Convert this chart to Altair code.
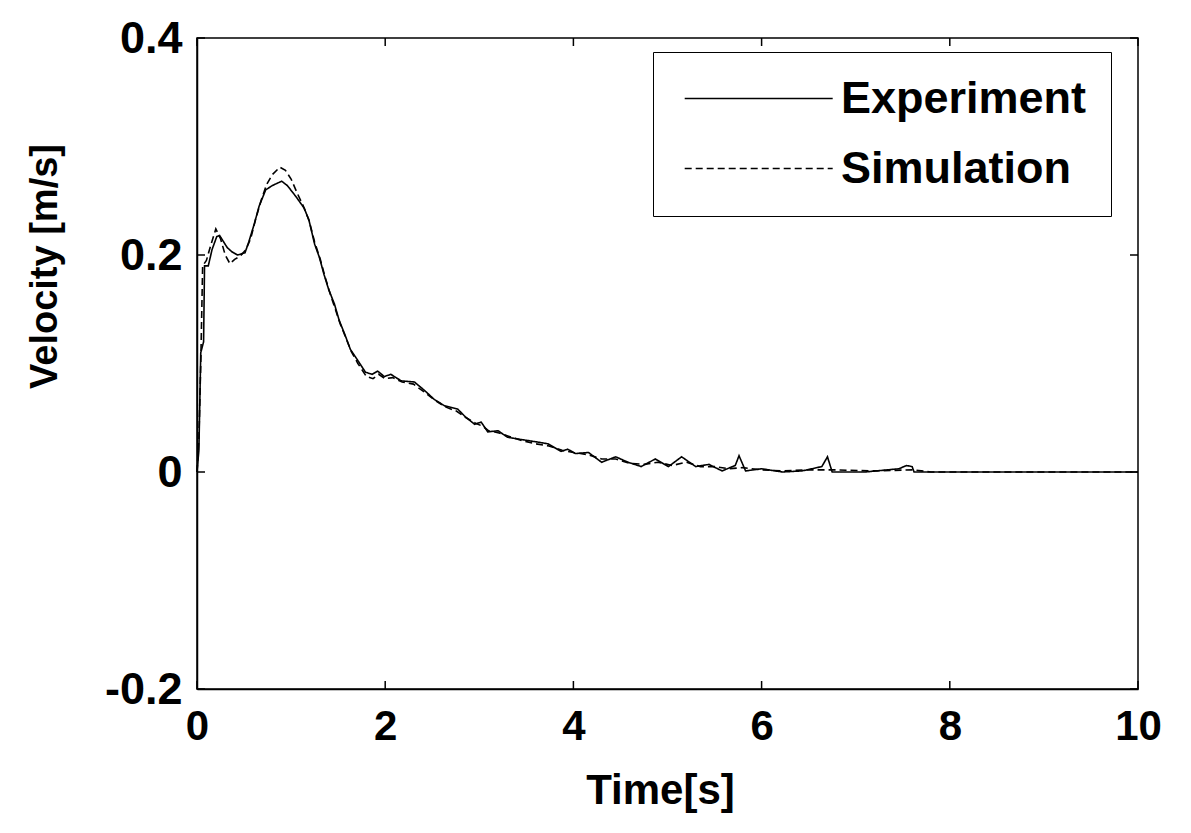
import altair as alt
import pandas as pd

# Experiment (solid)
exp_t = [0, 0.02, 0.04, 0.07, 0.08, 0.12, 0.16, 0.21, 0.24, 0.32, 0.37, 0.43, 0.51, 0.55, 0.61,
         0.66, 0.73, 0.8, 0.9, 0.96, 1.05, 1.14, 1.19, 1.25, 1.3, 1.35, 1.4, 1.46, 1.51, 1.57,
         1.63, 1.7, 1.79, 1.86, 1.92, 1.99, 2.06, 2.17, 2.31, 2.42, 2.52, 2.63, 2.77, 2.85, 2.95,
         3.02, 3.09, 3.2, 3.3, 3.44, 3.59, 3.73, 3.87, 3.94, 4.02, 4.16, 4.3, 4.45, 4.58, 4.72,
         4.87, 5.01, 5.15, 5.3, 5.44, 5.58, 5.72, 5.76, 5.83, 6.0, 6.22, 6.43, 6.64, 6.7, 6.75,
         7.1, 7.46, 7.54, 7.6, 7.62, 10]
exp_v = [0, 0.02, 0.11, 0.12, 0.19, 0.19, 0.205, 0.217, 0.218, 0.207, 0.203, 0.2, 0.202, 0.212, 0.229,
         0.245, 0.26, 0.264, 0.268, 0.264, 0.254, 0.243, 0.232, 0.21, 0.198, 0.182, 0.168, 0.155, 0.14, 0.127,
         0.113, 0.104, 0.092, 0.09, 0.093, 0.088, 0.09, 0.084, 0.083, 0.075, 0.067, 0.061, 0.058, 0.051, 0.044,
         0.046, 0.037, 0.038, 0.032, 0.03, 0.028, 0.026, 0.019, 0.021, 0.017, 0.018, 0.009, 0.014, 0.009, 0.005,
         0.012, 0.005, 0.014, 0.005, 0.007, 0.001, 0.006, 0.015, 0.001, 0.003, 0, 0.001, 0.005, 0.014, 0,
         0, 0.003, 0.006, 0.005, 0, 0]

# Simulation (dashed)
sim_t = [0, 0.02, 0.04, 0.06, 0.1, 0.15, 0.2, 0.25, 0.3, 0.35, 0.4, 0.46, 0.52, 0.57, 0.62, 0.68,
         0.74, 0.8, 0.88, 0.94, 1.0, 1.06, 1.13, 1.19, 1.25, 1.31, 1.36, 1.42, 1.47, 1.52, 1.58,
         1.64, 1.71, 1.8, 1.87, 1.93, 2.0, 2.08, 2.18, 2.3, 2.41, 2.53, 2.64, 2.76, 2.86, 2.96,
         3.04, 3.1, 3.21, 3.31, 3.45, 3.6, 3.74, 3.88, 4.0, 4.15, 4.3, 4.45, 4.6, 4.75, 4.9,
         5.05, 5.2, 5.35, 5.5, 5.65, 5.8, 6.0, 6.2, 6.5, 6.75, 7.2, 7.6, 7.8, 10]
sim_v = [0, 0.03, 0.1, 0.19, 0.195, 0.21, 0.224, 0.215, 0.2, 0.192, 0.196, 0.199, 0.205, 0.215, 0.232, 0.25,
         0.265, 0.274, 0.281, 0.278, 0.27, 0.258, 0.245, 0.232, 0.212, 0.196, 0.18, 0.163, 0.15, 0.137, 0.124,
         0.111, 0.1, 0.088, 0.086, 0.09, 0.086, 0.087, 0.083, 0.081, 0.074, 0.066, 0.06, 0.056, 0.05, 0.045,
         0.042, 0.038, 0.036, 0.033, 0.029, 0.026, 0.024, 0.02, 0.018, 0.016, 0.012, 0.012, 0.008, 0.007, 0.009,
         0.006, 0.009, 0.005, 0.005, 0.003, 0.004, 0.002, 0.001, 0.002, 0.002, 0.001, 0.002, 0, 0]

series_names = ["Experiment", "Simulation"]
x_ticks = [0, 2, 4, 6, 8, 10]
y_ticks = [-0.2, 0, 0.2, 0.4]

df = pd.concat([
    pd.DataFrame({"t": exp_t, "v": exp_v, "series": series_names[0], "order": range(len(exp_t))}),
    pd.DataFrame({"t": sim_t, "v": sim_v, "series": series_names[1], "order": range(len(sim_t))}),
])

FONT = "Liberation Sans"
W, H = 941, 651

xs = alt.Scale(domain=[0, 10], nice=False, zero=False)
ys = alt.Scale(domain=[-0.2, 0.4], nice=False, zero=False)

lines = alt.Chart(df).mark_line(strokeWidth=1.6, color="black").encode(
    x=alt.X("t:Q", scale=xs, axis=alt.Axis(
        values=x_ticks, title="Time[s]", labelFontSize=42, labelPadding=17,
        labelFlush=False, labelOverlap=False,
        labelExpr="format(datum.value, 'd')",
        titleFontSize=42, titleX=463, titleY=114, titleBaseline="alphabetic",
        titleAlign="center")),
    y=alt.Y("v:Q", scale=ys, axis=alt.Axis(
        values=y_ticks, title="Velocity [m/s]", labelFontSize=45, labelPadding=15,
        labelFlush=False, labelOverlap=False,
        labelExpr="datum.value == 0 ? '0' : replace(format(datum.value, '.1f'), '\u2212', '-')",
        titleFontSize=38, titleX=-152, titleY=228, titleAngle=270,
        titleAlign="center", titleBaseline="middle")),
    strokeDash=alt.StrokeDash("series:N",
        scale=alt.Scale(domain=series_names, range=[[1, 0], [7, 4]]),
        legend=alt.Legend(title=None, orient="none", legendX=456, legendY=14,
                          strokeColor="black", fillColor="white", padding=24,
                          labelFontSize=45, labelFont=FONT, labelFontWeight="bold",
                          labelColor="black", labelLimit=0,
                          symbolType="M-1,0H9", symbolSize=876, symbolStrokeWidth=1.4,
                          symbolStrokeColor="black", labelOffset=119, rowPadding=24)),
    order="order:Q",
)

xt_df = pd.DataFrame({"x": x_ticks})
yt_df = pd.DataFrame({"y": y_ticks})
TL = 8
xt_bottom = alt.Chart(xt_df).mark_rule(color="black", strokeWidth=1.5).encode(
    x=alt.X("x:Q", scale=xs), y=alt.value(H - TL), y2=alt.value(H))
xt_top = alt.Chart(xt_df).mark_rule(color="black", strokeWidth=1.5).encode(
    x=alt.X("x:Q", scale=xs), y=alt.value(0), y2=alt.value(TL))
yt_left = alt.Chart(yt_df).mark_rule(color="black", strokeWidth=1.5).encode(
    y=alt.Y("y:Q", scale=ys), x=alt.value(0), x2=alt.value(TL))
yt_right = alt.Chart(yt_df).mark_rule(color="black", strokeWidth=1.5).encode(
    y=alt.Y("y:Q", scale=ys), x=alt.value(W - TL), x2=alt.value(W))

chart = alt.layer(lines, xt_bottom, xt_top, yt_left, yt_right).properties(
    width=W, height=H,
    autosize=alt.AutoSizeParams(type="none"),
    padding={"left": 189, "top": 30, "right": 40, "bottom": 140},
    background="white",
).configure_view(
    stroke="black", strokeWidth=1.5
).configure_axis(
    domain=True, domainColor="black", domainWidth=1.5, ticks=False, grid=False,
    labelFont=FONT, labelFontWeight="bold", labelColor="black",
    titleFont=FONT, titleFontWeight="bold", titleColor="black",
)

chart.save("out.html", embed_options={"renderer": "svg", "actions": False})
